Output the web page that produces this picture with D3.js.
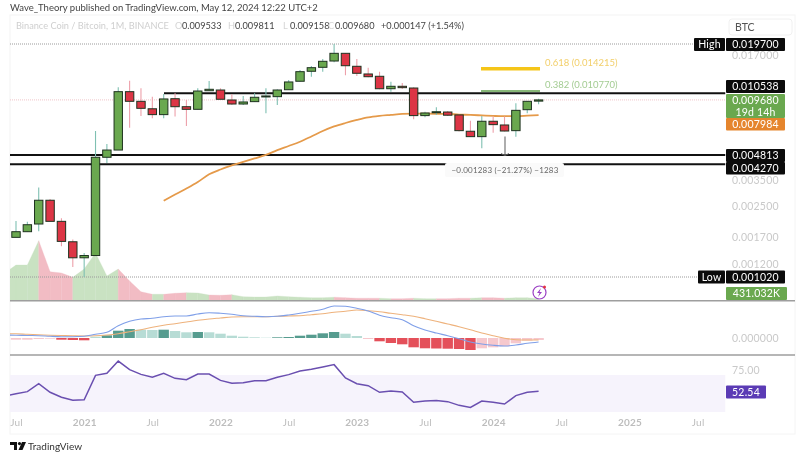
<!DOCTYPE html>
<html lang="en">
<head>
  <meta charset="UTF-8" />
  <title>Binance Coin / Bitcoin, 1M</title>
  <style>
    body { margin: 0; background: #fff; }
    svg { display: block; font-family: Lato, "Open Sans", sans-serif; filter: blur(0.35px); }
    .axis path, .axis line { display: none; }
    .axis text { fill: #c9c9c9; font-size: 10.5px; font-family: Lato, sans-serif; letter-spacing: 0.2px; }
    .time text { fill: #bdbdbd; font-size: 10px; }
    .time text.year { font-weight: 700; }
  </style>
  <script src="https://d3js.org/d3.v7.min.js"></script>
</head>
<body>
  <svg id="chart" width="805" height="452"></svg>
  <script>
    // monthly candles, Jul 2020 .. May 2024
    const opens = [.001688,.001814,.00200,.002705,.002069,.001596,.001302,.00134,.00467,.00512,.01075,.00951,.00865,.00803,.00983,.00888,.00859,.01088,.01098,.00967,.00919,.00947,.01009,.01009,.01102,.01227,.01393,.01465,.01587,.0175,.01484,.01346,.01307,.01116,.01151,.01126,.00793,.00823,.0083,.008,.0065,.00607,.00738,.00704,.00655,.00855,.009533];
    const highs = [.002077,.002058,.003177,.00275,.00215,.001645,.001382,.00652,.00553,.01136,.01236,.01122,.01009,.01044,.01053,.00967,.01122,.01231,.01122,.0104,.01018,.01053,.01122,.01108,.01247,.01416,.0149,.01628,.0197,.0175,.01628,.01458,.01386,.0122,.012,.01136,.00833,.00881,.00841,.00807,.00744,.0079,.00783,.00783,.00927,.00955,.009811];
    const lows = [.001688,.001814,.001823,.002069,.00151,.00116,.00102,.00134,.004344,.00512,.0068,.0079,.00767,.00767,.00783,.00695,.00859,.01084,.00976,.00907,.00907,.00943,.00817,.00907,.01098,.01222,.013,.01386,.01561,.01324,.01312,.0129,.01108,.01075,.01112,.00757,.00777,.008,.0079,.00647,.00604,.00524,.00638,.00647,.00607,.00817,.009158];
    const closes = [.001814,.001982,.002705,.002069,.001604,.001302,.00134,.00467,.00512,.01075,.00951,.0087,.00803,.0098,.00888,.00859,.01084,.01108,.00976,.00919,.00943,.01001,.01018,.01098,.01216,.01386,.01458,.01581,.0175,.01495,.01358,.013,.01116,.01151,.01131,.00793,.0082,.00833,.00797,.00655,.00607,.00738,.00707,.00652,.00848,.00951,.00968];

    // 50 month average, starts at candle 13
    const maStart = 13;
    const ma = [.00269,.00291,.00314,.00341,.00376,.004,.00421,.0044,.0046,.00481,.00512,.00539,.00569,.00608,.00652,.00691,.00722,.0075,.00775,.0079,.008,.0081,.00813,.00813,.00812,.0081,.00804,.008,.00795,.0079,.00787,.00787,.00792,.007984];

    // these start one month earlier (Jun 2020), the pane clips it
    const volumes = [5940,7710,7710,12960,6260,5980,5050,6850,10300,5340,6850,4250,1940,1380,1380,1600,1730,1660,1230,1170,1300,860,800,800,1020,864,756,648,648,756,648,540,540,540,432,432,540,432,432,432,540,540,648,648,540,648,648,431];
    const macdLine = [.0003,.00028,.00025,.00023,.00017,.00013,.00013,.00017,.00037,.00057,.00123,.00167,.0019,.00197,.00213,.0022,.0022,.0024,.00253,.00247,.00237,.00223,.00217,.00213,.00217,.0023,.00247,.00267,.00287,.0032,.00317,.00297,.0027,.00227,.00203,.00183,.00123,.0008,.0005,.00023,-.00007,-.0004,-.0006,-.00073,-.0008,-.0007,-.00053,-.0004];
    const signalLine = [.00043,.00042,.00037,.00033,.00028,.00025,.00022,.0002,.00022,.0003,.00043,.00063,.00083,.00107,.00127,.00143,.0016,.00177,.0019,.002,.0021,.00213,.00213,.00213,.00217,.0022,.00223,.00233,.00243,.00257,.00267,.0028,.00273,.00263,.00247,.00233,.00217,.00193,.00167,.0014,.00113,.00083,.0005,.00023,-.00003,-.00017,-.0002,-.0002];
    const rsi = [47,49.8,52,60.6,51.3,45.9,42.6,43.3,69.6,71.8,85.1,75.8,70.7,67.5,71.8,66.4,65,71.1,71.1,64.2,61,61.7,63.9,63.9,67.5,70.4,74.3,76.1,78.6,81.2,66.8,60.6,58.5,51.3,52.7,51.6,40.5,41.9,42.3,41.2,37.2,35,41.9,40.5,38.6,47.7,51.3,52.54];

    // same months as the candles
    const hist = [-.00017,-.00017,-.0001,-.00007,-.00017,-.0002,-.00023,.00013,.00027,.00073,.0009,.00083,.0008,.00083,.0007,.00057,.0006,.00057,.00043,.00023,.00013,.00007,.00003,.00007,.0001,.00023,.00033,.00047,.0006,.00043,.0002,-.0001,-.00033,-.0005,-.00063,-.00093,-.00103,-.00105,-.00107,-.0011,-.0012,-.00103,-.00093,-.00083,-.00053,-.00027,-.0002];

    const timeTickIdx = [0,6,12,18,24,30,36,42,48,54,60];
    const timeTickLabels = ["Jul","2021","Jul","2022","Jul","2023","Jul","2024","Jul","2025","Jul"];
    const priceTicks = [.017,.0035,.0025,.0017,.0012];

    const high = .0197, low = .00102;
    const resistance = .010538, support1 = .004813, support2 = .00427;
    const fib618 = .014215, fib382 = .01077;
    const lastClose = .00968, lastMa = .007984;

    const svg = d3.select("#chart");
    const x = d3.scaleLinear().domain([0, 46]).range([16, 538.6]);
    const y = d3.scaleLog().domain([high, low]).range([44, 277]);
    const yVol = d3.scaleLinear().domain([0, 12960]).range([300.7, 240.7]);
    const yMacd = d3.scaleLinear().domain([0, .0032]).range([338, 306]);
    const yRsi = d3.scaleLinear().domain([70, 30]).range([375, 412]);

    const green = "#6aa84f", red = "#dc3545";
    const right = 725.5, left = 10;

    // frame
    svg.append("rect").attr("x", left).attr("y", 15).attr("width", 785).attr("height", 419)
      .attr("fill", "none").attr("stroke", "#f4f4f4");
    svg.append("clipPath").attr("id", "pane").append("rect")
      .attr("x", left).attr("y", 15).attr("width", right - left).attr("height", 419);

    const plot = svg.append("g").attr("clip-path", "url(#pane)");

    // volume area, coloured by the candle it runs into
    const volArea = d3.area().x(d => x(d.i)).y0(yVol(0)).y1(d => yVol(d.v));
    volumes.slice(0, -1).forEach((v, k) => {
      const col = closes[k] >= opens[k] ? "#c9e2c2" : "#f2bcc4";
      plot.append("path")
        .attr("d", volArea([{ i: k - 1, v: v }, { i: k, v: volumes[k + 1] }]))
        .attr("fill", col).attr("stroke", col).attr("stroke-width", 0.3);
    });

    // dotted levels
    [[high, "#9a9a9a"], [low, "#9a9a9a"], [lastClose, "#f0c4c8"]].forEach(([v, c]) => {
      plot.append("line").attr("x1", left).attr("x2", right).attr("y1", y(v)).attr("y2", y(v))
        .attr("stroke", c).attr("stroke-dasharray", "1 1");
    });

    // fib levels
    plot.append("line").attr("x1", 481).attr("x2", 540).attr("y1", y(fib618) - 1).attr("y2", y(fib618) - 1)
      .attr("stroke", "#f5c518").attr("stroke-width", 3.5);
    plot.append("line").attr("x1", 481).attr("x2", 540).attr("y1", y(fib382) - 0.5).attr("y2", y(fib382) - 0.5)
      .attr("stroke", "#5f9e4a").attr("stroke-width", 1.6);
    svg.append("text").attr("x", 545).attr("y", 66).attr("font-size", 9.5).attr("fill", "#f2cf6a").text("0.618 (0.014215)");
    svg.append("text").attr("x", 545).attr("y", 88).attr("font-size", 9.5).attr("fill", "#a3cc92").text("0.382 (0.010770)");

    // support / resistance
    [[resistance, 164], [support1, left], [support2, left]].forEach(([v, x0]) => {
      plot.append("line").attr("x1", x0).attr("x2", right).attr("y1", y(v)).attr("y2", y(v))
        .attr("stroke", "#111").attr("stroke-width", 2);
    });

    // moving average
    plot.append("path").datum(ma)
      .attr("d", d3.line().x((d, i) => x(i + maStart)).y(d => y(d)).curve(d3.curveMonotoneX))
      .attr("fill", "none").attr("stroke", "#e59a4a").attr("stroke-width", 1.8);

    // candles
    opens.forEach((o, i) => {
      const up = closes[i] >= o;
      plot.append("line").attr("x1", x(i)).attr("x2", x(i)).attr("y1", y(highs[i])).attr("y2", y(lows[i]))
        .attr("stroke", up ? "#7fc0b2" : "#eda0aa").attr("stroke-width", 1.1);
      const top = y(Math.max(o, closes[i])), bot = y(Math.min(o, closes[i]));
      plot.append("rect").attr("x", x(i) - 4.2).attr("width", 8.4)
        .attr("y", top).attr("height", Math.max(bot - top, 1))
        .attr("fill", up ? green : red).attr("stroke", "#1f3320").attr("stroke-width", 1);
    });

    // measure tool
    plot.append("line").attr("x1", 505).attr("x2", 505).attr("y1", 136.5).attr("y2", 155)
      .attr("stroke", "#777").attr("stroke-width", 1.2);
    plot.append("path").attr("d", "M501,153.5 L505,155.5 L509,153.5").attr("fill", "none").attr("stroke", "#666");
    svg.append("rect").attr("x", 445).attr("y", 163).attr("width", 119).attr("height", 14).attr("rx", 2)
      .attr("fill", "#fafafa");
    svg.append("text").attr("x", 505).attr("y", 172.7).attr("text-anchor", "middle").attr("font-size", 8)
      .attr("fill", "#666").attr("letter-spacing", 0.2).text("\u22120.001283 (\u221221.27%) \u22121283");

    // macd pane
    hist.forEach((h, i) => {
      const prev = hist[i - 1];
      const growing = prev !== undefined && prev * h > 0 && Math.abs(h) > Math.abs(prev);
      const col = h >= 0 ? (growing ? "#569c8f" : "#b7dcd5") : (growing ? "#e4505a" : "#f6c8cd");
      plot.append("rect").attr("x", x(i) - 5.2).attr("width", 10.4)
        .attr("y", Math.min(yMacd(h), yMacd(0))).attr("height", Math.abs(yMacd(h) - yMacd(0)))
        .attr("fill", col);
    });
    const macdPath = d3.line().x((d, i) => x(i - 1)).y(d => yMacd(d)).curve(d3.curveMonotoneX);
    plot.append("path").attr("d", macdPath(signalLine)).attr("fill", "none").attr("stroke", "#eeb27c").attr("stroke-width", 1.1);
    plot.append("path").attr("d", macdPath(macdLine)).attr("fill", "none").attr("stroke", "#7f9fe8").attr("stroke-width", 1.1);

    // rsi pane
    plot.append("rect").attr("x", left).attr("width", right - left)
      .attr("y", yRsi(70)).attr("height", yRsi(30) - yRsi(70)).attr("fill", "#f6f3fc");
    plot.append("path").datum(rsi)
      .attr("d", d3.line().x((d, i) => x(i - 1)).y(d => yRsi(d)))
      .attr("fill", "none").attr("stroke", "#6a4fb0").attr("stroke-width", 1.5);

    // pane separators
    [300.7, 355].forEach(p => {
      svg.append("line").attr("x1", left).attr("x2", 795).attr("y1", p).attr("y2", p)
        .attr("stroke", "#9e9e9e").attr("stroke-width", 1.4);
    });

    // axes
    svg.append("g").attr("class", "axis").attr("transform", "translate(729,0)")
      .call(d3.axisRight(y).tickValues(priceTicks).tickFormat(d3.format(".6f")).tickSize(0).tickPadding(3));
    svg.append("g").attr("class", "axis").attr("transform", "translate(729,0)")
      .call(d3.axisRight(yMacd).tickValues([0]).tickFormat(d3.format(".6f")).tickSize(0).tickPadding(3));
    svg.append("g").attr("class", "axis").attr("transform", "translate(729,0)")
      .call(d3.axisRight(yRsi).tickValues([75]).tickFormat(d3.format(".2f")).tickSize(0).tickPadding(3));
    const timeAxis = svg.append("g").attr("class", "axis time").attr("transform", "translate(0,414)")
      .call(d3.axisBottom(x).tickValues(timeTickIdx).tickFormat((d, i) => timeTickLabels[i]).tickSize(0).tickPadding(5));
    timeAxis.selectAll("text").classed("year", (d, i) => timeTickLabels[i] !== "Jul");

    // price tags on the right
    function tag(bx, by, w, h, fill, lines, col) {
      svg.append("rect").attr("x", bx).attr("y", by).attr("width", w).attr("height", h).attr("rx", 1).attr("fill", fill);
      lines.forEach((t, i) => {
        svg.append("text").attr("x", bx + w / 2).attr("y", by + 10 + i * 11.5).attr("text-anchor", "middle")
          .attr("font-size", 10.5).attr("letter-spacing", 0.2).attr("fill", col || "#fff").text(t);
      });
    }
    const f6 = d3.format(".6f");
    tag(694, 38, 31, 13, "#0b0b0b", ["High"]);
    tag(726, 38, 59, 13, "#0b0b0b", [f6(high)]);
    tag(726, 80, 59, 13, "#0b0b0b", [f6(resistance)]);
    tag(726, 94, 59, 24, green, [f6(lastClose), "19d 14h"]);
    tag(726, 118, 59, 12.5, "#e5852d", [f6(lastMa)]);
    tag(726, 149, 59, 13, "#0b0b0b", [f6(support1)]);
    tag(726, 162, 59, 12.5, "#0b0b0b", [f6(support2)]);
    tag(698, 270.5, 27, 13, "#0b0b0b", ["Low"]);
    tag(726, 270.5, 59, 13, "#0b0b0b", [f6(low)]);
    tag(726, 287, 61, 13, green, ["431.032K"]);
    tag(726, 385.5, 40, 13, "#5b3bb5", [d3.format(".2f")(rsi[rsi.length - 1])]);

    // BTC box
    svg.append("rect").attr("x", 729).attr("y", 19).attr("width", 63).attr("height", 16).attr("rx", 3)
      .attr("fill", "#fff").attr("stroke", "#f0f0f0");
    svg.append("text").attr("x", 735).attr("y", 30.5).attr("font-size", 10.5).attr("fill", "#555").text("BTC");

    // lightning badge
    svg.append("circle").attr("cx", 539.5).attr("cy", 292.5).attr("r", 6.5).attr("fill", "#fff")
      .attr("stroke", "#9a3fc4").attr("stroke-width", 1.2);
    svg.append("path").attr("d", "M541,288 L537,293 L539.5,293 L538,297 L542,292 L539.5,292 Z").attr("fill", "#9a3fc4");
    svg.append("circle").attr("cx", 544.5).attr("cy", 287).attr("r", 1.5).attr("fill", "#e5333f");

    // header + legend
    svg.append("text").attr("x", 10).attr("y", 11).attr("font-size", 9.5).attr("fill", "#444")
      .text("Wave_Theory published on TradingView.com, May 12, 2024 12:22 UTC+2");
    svg.append("text").attr("x", 16).attr("y", 29).attr("font-size", 9.2).attr("fill", "#cfcfcf")
      .text("Binance Coin / Bitcoin, 1M, BINANCE");
    [["O", "0.009533", 175], ["H", "0.009811", 228], ["L", "0.009158", 283], ["C", "0.009680", 328]].forEach(([k, v, px]) => {
      svg.append("text").attr("x", px).attr("y", 29).attr("font-size", 9.2).attr("fill", "#d5d5d5").text(k);
      svg.append("text").attr("x", px + 7).attr("y", 29).attr("font-size", 9.2).attr("fill", "#444").text(v);
    });
    svg.append("text").attr("x", 381).attr("y", 29).attr("font-size", 9.2).attr("fill", "#444").text("+0.000147 (+1.54%)");

    // footer logo
    svg.append("path").attr("d", "M10,442 H17 V450 H14 V445 H10 Z M22,442 H26 L22.5,450 H18.5 Z").attr("fill", "#111");
    svg.append("circle").attr("cx", 19.5).attr("cy", 443.6).attr("r", 1.6).attr("fill", "#111");
    svg.append("text").attr("x", 28).attr("y", 450).attr("font-size", 10).attr("fill", "#333").text("TradingView");
  </script>
</body>
</html>
